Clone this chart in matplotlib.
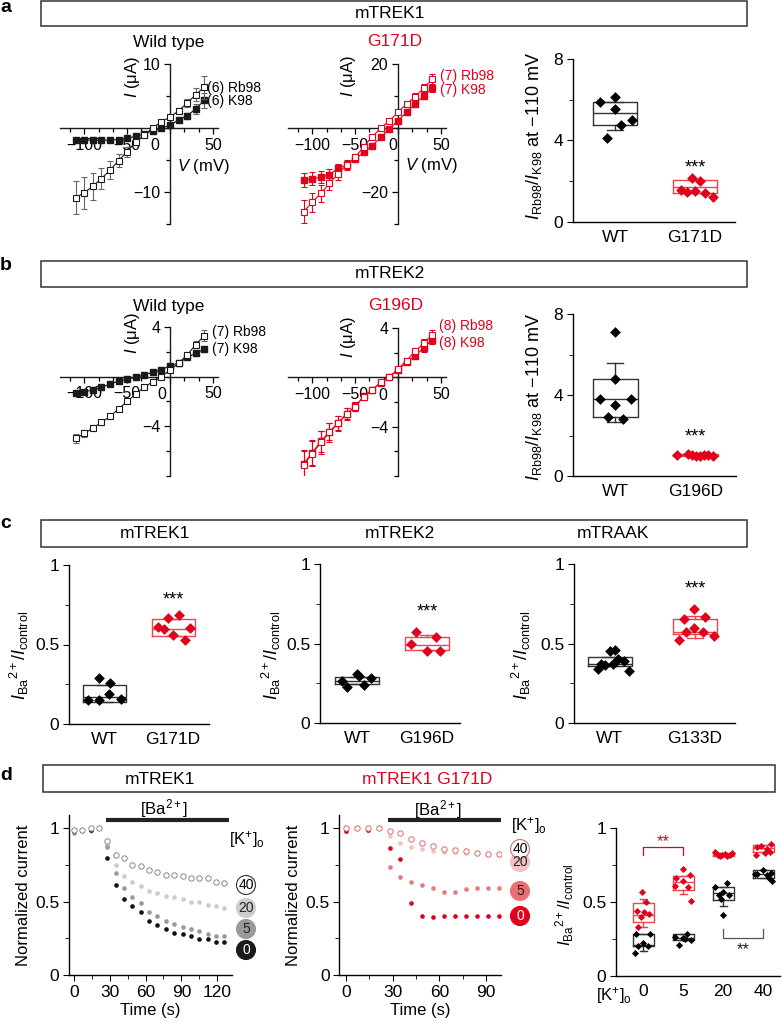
import numpy as np
import matplotlib
matplotlib.use("Agg")
import matplotlib.pyplot as plt
from matplotlib.patches import Rectangle, Circle
from matplotlib.ticker import MultipleLocator

plt.rcParams["font.family"] = ["Liberation Sans", "DejaVu Sans"]
plt.rcParams["mathtext.fontset"] = "custom"
plt.rcParams["mathtext.rm"] = "Liberation Sans"
plt.rcParams["mathtext.it"] = "Liberation Sans:italic"
plt.rcParams["mathtext.bf"] = "Liberation Sans:bold"
plt.rcParams["axes.linewidth"] = 1.0

W, H = 783, 1026
RED = "#e2001a"
RED_BOX = "#e8474f"
DARK = "#1a1a1a"

# ---------------- data ----------------
voltage_mv = [-110, -100, -90, -80, -70, -60, -50, -40, -30, -20, -10, 0, 10, 20, 30, 40]

a_wt_rb98 = [-10.9, -10.1, -9.1, -7.9, -6.6, -5.1, -3.7, -2.2, -1.1, 0.0, 1.0, 1.7, 2.7, 3.9, 5.2, 6.4]
a_wt_rb98_err = [2.6, 2.5, 2.1, 1.7, 1.4, 1.0, 0.8, 0.5, 0.3, 0.2, 0.2, 0.3, 0.4, 0.6, 1.0, 1.8]
a_wt_k98 = [-1.9, -1.9, -1.9, -1.9, -1.9, -1.8, -1.6, -1.3, -0.9, -0.4, 0.0, 0.4, 1.3, 1.9, 3.0, 4.3]
a_wt_k98_err = [0.3, 0.3, 0.3, 0.3, 0.3, 0.3, 0.3, 0.2, 0.2, 0.2, 0.2, 0.2, 0.3, 0.5, 0.8, 1.2]

a_g_rb98 = [-26.1, -23.2, -20.4, -17.3, -14.4, -11.5, -9.2, -5.8, -2.7, 0.0, 2.3, 4.9, 7.5, 9.8, 12.5, 15.2]
a_g_rb98_err = [3.5, 2.9, 2.6, 2.1, 1.8, 1.5, 1.2, 0.8, 0.6, 0.5, 0.5, 0.6, 0.8, 1.0, 1.3, 1.7]
a_g_k98 = [-16.3, -15.9, -15.4, -14.6, -12.6, -11.5, -9.7, -7.6, -5.5, -2.9, -0.3, 2.3, 4.9, 7.5, 10.1, 12.4]
a_g_k98_err = [2.2, 2.0, 1.9, 1.7, 1.5, 1.2, 1.0, 0.8, 0.6, 0.5, 0.4, 0.5, 0.6, 0.8, 1.0, 1.3]

b_wt_rb98 = [-4.97, -4.57, -4.14, -3.68, -3.2, -2.6, -2.0, -1.4, -0.85, -0.4, 0.0, 0.54, 1.08, 1.75, 2.58, 3.3]
b_wt_rb98_err = [0.35, 0.3, 0.25, 0.2, 0.2, 0.15, 0.15, 0.1, 0.1, 0.1, 0.1, 0.1, 0.15, 0.2, 0.3, 0.45]
b_wt_k98 = [-1.34, -1.21, -1.08, -0.86, -0.6, -0.35, -0.2, -0.05, 0.15, 0.35, 0.56, 0.89, 1.08, 1.56, 1.88, 2.23]
b_wt_k98_err = [0.1, 0.1, 0.1, 0.1, 0.1, 0.1, 0.1, 0.1, 0.1, 0.1, 0.1, 0.1, 0.1, 0.15, 0.2, 0.25]

b_g_rb98 = [-7.1, -6.18, -5.28, -4.47, -3.74, -2.98, -2.38, -1.57, -1.02, -0.41, 0.05, 0.68, 1.36, 2.11, 2.77, 3.45]
b_g_rb98_err = [1.15, 1.0, 0.9, 0.75, 0.6, 0.5, 0.35, 0.25, 0.2, 0.15, 0.1, 0.15, 0.2, 0.25, 0.3, 0.35]
b_g_k98 = [-7.0, -6.1, -5.2, -4.4, -3.7, -2.95, -2.35, -1.55, -1.0, -0.42, 0.03, 0.6, 1.22, 1.76, 2.39, 3.04]
b_g_k98_err = [1.1, 1.0, 0.85, 0.7, 0.6, 0.45, 0.35, 0.25, 0.2, 0.15, 0.1, 0.15, 0.2, 0.25, 0.3, 0.3]

# ratio I_Rb98/I_K98 at -110 mV
a_ratio_wt = [5.9, 6.15, 5.57, 5.03, 4.75, 4.1]
a_ratio_wt_off = [-0.19, 0.0, 0.0, 0.21, 0.08, -0.1]
a_ratio_g = [1.55, 1.45, 2.15, 2.0, 1.5, 1.42, 1.25]
a_ratio_g_off = [-0.17, -0.1, -0.04, 0.06, 0.0, 0.12, 0.22]
a_box_wt = [4.75, 5.33, 5.9, 4.5, 5.9]   # q1, median, q3, low, high
a_box_g = [1.44, 1.73, 2.06, 1.44, 2.06]

b_ratio_wt = [7.13, 4.77, 3.78, 3.78, 3.53, 2.92, 2.8]
b_ratio_wt_off = [0.0, 0.0, -0.19, 0.19, 0.0, -0.09, 0.09]
b_ratio_g = [1.02, 1.08, 0.98, 1.05, 1.0, 1.06, 0.97, 1.03]
b_ratio_g_off = [-0.23, -0.1, 0.0, 0.1, 0.22, -0.05, 0.05, 0.15]
b_box_wt = [2.92, 3.78, 4.77, 2.67, 5.6]
b_box_g = [0.98, 1.03, 1.08, 0.98, 1.08]

# I_Ba/I_control
c1_wt = [0.15, 0.148, 0.29, 0.255, 0.19, 0.158]
c1_wt_off = [-0.23, -0.08, -0.08, 0.08, 0.07, 0.24]
c1_g = [0.61, 0.60, 0.665, 0.685, 0.56, 0.53, 0.605]
c1_g_off = [-0.22, -0.13, -0.07, 0.09, 0.0, 0.17, 0.25]
c1_box_wt = [0.14, 0.17, 0.243, 0.14, 0.243]
c1_box_g = [0.553, 0.60, 0.66, 0.553, 0.66]

c2_wt = [0.265, 0.225, 0.31, 0.295, 0.24, 0.285]
c2_wt_off = [-0.22, -0.15, 0.0, 0.02, 0.1, 0.2]
c2_g = [0.50, 0.575, 0.455, 0.54, 0.455]
c2_g_off = [-0.23, -0.16, 0.0, 0.13, 0.19]
c2_box_wt = [0.243, 0.265, 0.29, 0.243, 0.29]
c2_box_g = [0.46, 0.49, 0.54, 0.46, 0.555]

c3_wt = [0.34, 0.365, 0.455, 0.46, 0.37, 0.40, 0.39, 0.325, 0.37]
c3_wt_off = [-0.16, -0.07, 0.0, 0.07, 0.04, 0.12, 0.2, 0.27, -0.12]
c3_g = [0.52, 0.655, 0.72, 0.665, 0.575, 0.595, 0.575, 0.545]
c3_g_off = [-0.23, -0.16, -0.02, 0.14, -0.12, -0.02, 0.11, 0.27]
c3_box_wt = [0.358, 0.37, 0.416, 0.358, 0.416]
c3_box_g = [0.56, 0.575, 0.655, 0.535, 0.67]

# Ba2+ block time course (normalized current)
d1_time = [0, 7, 14, 21, 28, 35, 42, 49, 56, 63, 70, 77, 84, 91, 98, 105, 112, 119, 126]
d1_k40 = [0.99, 0.99, 1.0, 1.0, 0.915, 0.82, 0.795, 0.75, 0.74, 0.715, 0.705, 0.68, 0.68, 0.675, 0.66, 0.66, 0.66, 0.635, 0.63]
d1_k20 = [0.98, 0.99, 0.98, 1.0, 0.886, 0.75, 0.675, 0.636, 0.607, 0.573, 0.561, 0.538, 0.53, 0.516, 0.5, 0.5, 0.477, 0.473, 0.455]
d1_k5 = [0.97, 0.98, 0.99, 1.0, 0.87, 0.693, 0.59, 0.534, 0.489, 0.432, 0.402, 0.37, 0.345, 0.325, 0.311, 0.3, 0.28, 0.268, 0.265]
d1_k0 = [0.98, 0.99, 0.99, 1.0, 0.80, 0.613, 0.516, 0.472, 0.427, 0.37, 0.34, 0.313, 0.284, 0.28, 0.268, 0.245, 0.245, 0.227, 0.227]

d2_time = [0, 7, 14, 21, 28, 35, 42, 49, 56, 63, 70, 77, 84, 91, 98]
d2_k40 = [1.0, 1.0, 1.0, 1.0, 0.98, 0.965, 0.925, 0.897, 0.879, 0.861, 0.852, 0.845, 0.834, 0.827, 0.823]
d2_k20 = [1.0, 1.0, 0.99, 1.0, 0.95, 0.90, 0.872, 0.855, 0.845, 0.84, 0.835, 0.83, 0.828, 0.825, 0.82]
d2_k5 = [0.98, 1.0, 0.99, 1.0, 0.735, 0.67, 0.635, 0.612, 0.592, 0.567, 0.567, 0.586, 0.59, 0.59, 0.59]
d2_k0 = [0.98, 1.0, 0.99, 1.0, 0.866, 0.79, 0.49, 0.405, 0.397, 0.40, 0.40, 0.40, 0.40, 0.40, 0.40]

k_labels = ["0", "5", "20", "40"]
d3_red = [[0.565, 0.50, 0.44, 0.43, 0.42, 0.40, 0.33],
          [0.725, 0.685, 0.66, 0.64, 0.61, 0.60, 0.51],
          [0.84, 0.82, 0.815, 0.82, 0.825, 0.81, 0.82, 0.83],
          [0.895, 0.88, 0.87, 0.86, 0.84, 0.82, 0.83]]
d3_red_off = [[-0.04, 0.08, -0.15, 0.02, 0.15, -0.05, -0.12],
              [0.0, 0.17, -0.17, 0.0, -0.2, 0.12, 0.2],
              [-0.2, -0.14, -0.08, -0.02, 0.04, 0.1, 0.16, 0.22],
              [0.2, -0.05, -0.15, 0.1, 0.18, -0.18, 0.05]]
d3_black = [[0.285, 0.285, 0.20, 0.20, 0.155, 0.22],
            [0.26, 0.21, 0.255, 0.28, 0.24, 0.25],
            [0.63, 0.60, 0.57, 0.55, 0.55, 0.52, 0.41],
            [0.72, 0.70, 0.69, 0.68, 0.69, 0.66, 0.64]]
d3_black_off = [[-0.18, 0.16, -0.13, 0.12, -0.2, 0.0],
                [-0.2, -0.1, 0.0, 0.1, 0.2, 0.05],
                [0.1, -0.2, 0.0, -0.1, 0.15, -0.05, 0.0],
                [0.0, 0.2, -0.15, 0.1, -0.2, 0.15, 0.22]]
d3_box_red = [[0.365, 0.41, 0.49, 0.33, 0.52], [0.58, 0.635, 0.675, 0.556, 0.675],
              [0.81, 0.82, 0.83, 0.81, 0.83], [0.84, 0.865, 0.89, 0.84, 0.89]]
d3_box_black = [[0.20, 0.21, 0.285, 0.17, 0.285], [0.245, 0.255, 0.28, 0.245, 0.28],
                [0.515, 0.56, 0.60, 0.47, 0.60], [0.665, 0.69, 0.72, 0.665, 0.72]]

# ---------------- helpers ----------------
fig = plt.figure(figsize=(W / 100, H / 100), dpi=100)


def add_ax(x0, x1, y0, y1):
    return fig.add_axes([x0 / W, 1 - y1 / H, (x1 - x0) / W, (y1 - y0) / H])


def ftext(x, y, s, **kw):
    kw.setdefault("ha", "center")
    kw.setdefault("va", "center")
    kw.setdefault("fontsize", 11.5)
    return fig.text(x / W, 1 - y / H, s, **kw)


def header(x0, x1, y0, y1):
    fig.add_artist(Rectangle((x0 / W, 1 - y1 / H), (x1 - x0) / W, (y1 - y0) / H,
                             transform=fig.transFigure, fill=False, lw=1.1, ec="#333333"))


def iv_plot(ax, ylim, yticks, yminor, rb, rb_err, k, k_err, color, ecolor, zero_dx):
    ax.set_xlim(-128, 56)
    ax.set_ylim(*ylim)
    for s in ("top", "right"):
        ax.spines[s].set_visible(False)
    ax.spines["left"].set_position(("data", 0))
    ax.spines["bottom"].set_position(("data", 0))
    ax.spines["left"].set_color(DARK)
    ax.spines["bottom"].set_color(DARK)
    ax.set_xticks([-100, -50, 0, 50], ["\u2212100", "\u221250", "", "50"])
    ax.xaxis.set_minor_locator(MultipleLocator(50 / 3))
    ax.set_yticks(yticks, [f"{t:g}".replace("-", "\u2212") for t in yticks])
    ax.yaxis.set_minor_locator(MultipleLocator(yminor))
    ax.tick_params(which="major", length=4, width=0.9, labelsize=11.5, pad=3)
    ax.tick_params(which="minor", length=3, width=0.9)
    ax.annotate("0", xy=(0, 0), xytext=(zero_dx, -7.5), textcoords="offset points",
                ha="center", va="top", fontsize=11.5)
    ax.errorbar(voltage_mv, k, yerr=k_err, fmt="-s", color=color, ecolor=ecolor, mfc=color,
                mec=color, ms=5, lw=0.8, elinewidth=0.8, capsize=2, capthick=0.8, zorder=3)
    ax.errorbar(voltage_mv, rb, yerr=rb_err, fmt="-s", color=color, ecolor=ecolor, mfc="white",
                mec=color, ms=5, mew=0.8, lw=0.8, elinewidth=0.8, capsize=2, capthick=0.8, zorder=4)


def box_axes(ax, xlim, ylim, yticks, ylabels, yminor, xlabels, fs=12.5):
    ax.set_xlim(*xlim)
    ax.set_ylim(*ylim)
    for s in ("top", "right"):
        ax.spines[s].set_visible(False)
    ax.set_yticks(yticks, ylabels)
    ax.yaxis.set_minor_locator(MultipleLocator(yminor))
    ax.set_xticks(range(1, len(xlabels) + 1), xlabels)
    ax.tick_params(axis="x", length=0, pad=6, labelsize=fs)
    ax.tick_params(axis="y", which="major", length=4, labelsize=fs, pad=3)
    ax.tick_params(axis="y", which="minor", length=3)


def draw_box(ax, pos, stats, width, color):
    q1, med, q3, lo, hi = stats
    props = dict(color=color, lw=1.0)
    ax.bxp([dict(q1=q1, med=med, q3=q3, whislo=lo, whishi=hi, fliers=[])],
           positions=[pos], widths=width, capwidths=width * 0.35, manage_ticks=False,
           boxprops=props, medianprops=props, whiskerprops=props, capprops=props, zorder=2)


def draw_pts(ax, pos, vals, offs, color, s=30):
    ax.scatter(np.add(pos, offs), vals, marker="D", s=s, color=color, linewidths=0, zorder=3)


def badge(x, y, s, face, edge, tcolor):
    fig.add_artist(Circle((x / 100, (H - y) / 100), 0.095, transform=fig.dpi_scale_trans,
                          fc=face, ec=edge, lw=0.8))
    ftext(x, y, s, fontsize=10, color=tcolor)


# ---------------- panel a ----------------
ftext(6, 8, "a", fontsize=14, fontweight="bold")
header(41, 747, 1, 26)
ftext(390, 14, "mTREK1", fontsize=12.5)

ax = add_ax(60.3, 218, 64, 224)
iv_plot(ax, (-15, 10), [-10, 10], 5, a_wt_rb98, a_wt_rb98_err, a_wt_k98, a_wt_k98_err,
        DARK, "#666666", -11)
ftext(169, 42, "Wild type", fontsize=12.5)
ftext(132, 77, r"$I$ (μA)", rotation=90, fontsize=12)
ftext(203, 167, r"$V$ (mV)", fontsize=12)
ftext(207, 88, "(6) Rb98", fontsize=10, ha="left")
ftext(207, 101, "(6) K98", fontsize=10, ha="left")

ax = add_ax(288.3, 446, 64, 224)
iv_plot(ax, (-30, 20), [-20, 20], 10, a_g_rb98, a_g_rb98_err, a_g_k98, a_g_k98_err,
        RED, RED, -4)
ftext(395, 42, "G171D", fontsize=12.5, color=RED)
ftext(348, 76, r"$I$ (μA)", rotation=90, fontsize=12)
ftext(431, 166, r"$V$ (mV)", fontsize=12)
ftext(440, 76, "(7) Rb98", fontsize=10, ha="left", color=RED)
ftext(440, 90, "(7) K98", fontsize=10, ha="left", color=RED)

ax = add_ax(573, 735, 59, 222)
box_axes(ax, (0.475, 2.5), (0, 8), [0, 4, 8], ["0", "4", "8"], 2, ["WT", "G171D"])
draw_box(ax, 1, a_box_wt, 0.56, "#333333")
draw_box(ax, 2, a_box_g, 0.56, RED_BOX)
draw_pts(ax, 1, a_ratio_wt, a_ratio_wt_off, "black")
draw_pts(ax, 2, a_ratio_g, a_ratio_g_off, RED)
ax.text(2, 2.65, "***", ha="center", va="center", fontsize=13)
ftext(534, 136, r"$I_{\rm Rb98}/I_{\rm K98}$ at " + "\u2212110 mV", rotation=90, fontsize=13)

# ---------------- panel b ----------------
ftext(6, 265, "b", fontsize=14, fontweight="bold")
header(41, 747, 261, 287)
ftext(390, 274, "mTREK2", fontsize=12.5)

ax = add_ax(60.3, 218, 327, 476)
iv_plot(ax, (-8, 4), [-4, 4], 2, b_wt_rb98, b_wt_rb98_err, b_wt_k98, b_wt_k98_err,
        DARK, "#666666", -6)
ftext(169, 306, "Wild type", fontsize=12.5)
ftext(132, 333, r"$I$ (μA)", rotation=90, fontsize=12)
ftext(212, 332, "(7) Rb98", fontsize=10, ha="left")
ftext(212, 349, "(7) K98", fontsize=10, ha="left")

ax = add_ax(288.3, 446, 328, 476)
iv_plot(ax, (-8, 4), [-4, 4], 2, b_g_rb98, b_g_rb98_err, b_g_k98, b_g_k98_err,
        RED, RED, -11)
ftext(396, 306, "G196D", fontsize=12.5, color=RED)
ftext(348, 337, r"$I$ (μA)", rotation=90, fontsize=12)
ftext(439, 326, "(8) Rb98", fontsize=10, ha="left", color=RED)
ftext(439, 343, "(8) K98", fontsize=10, ha="left", color=RED)

ax = add_ax(573, 736, 314, 476)
box_axes(ax, (0.475, 2.5), (0, 8), [0, 4, 8], ["0", "4", "8"], 2, ["WT", "G196D"])
draw_box(ax, 1, b_box_wt, 0.56, "#333333")
draw_box(ax, 2, b_box_g, 0.56, RED_BOX)
draw_pts(ax, 1, b_ratio_wt, b_ratio_wt_off, "black")
draw_pts(ax, 2, b_ratio_g, b_ratio_g_off, RED)
ax.text(2, 1.95, "***", ha="center", va="center", fontsize=13)
ftext(534, 397, r"$I_{\rm Rb98}/I_{\rm K98}$ at " + "\u2212110 mV", rotation=90, fontsize=13)

# ---------------- panel c ----------------
ftext(6, 524, "c", fontsize=14, fontweight="bold")
header(41, 747, 520, 547)
ftext(155, 534, "mTREK1", fontsize=12.5)
ftext(400, 534, "mTREK2", fontsize=12.5)
ftext(613, 534, "mTRAAK", fontsize=12.5)

ba_label = r"$I_{\rm Ba}{}^{2+}/I_{\rm control}$"
c_specs = [
    ((69, 209, 565, 724), (0.49, 2.52), 0.62, "G171D", c1_wt, c1_wt_off, c1_g, c1_g_off,
     c1_box_wt, c1_box_g, 0.78, 19),
    ((320, 460, 564, 723), (0.47, 2.47), 0.62, "G196D", c2_wt, c2_wt_off, c2_g, c2_g_off,
     c2_box_wt, c2_box_g, 0.70, 271),
    ((574, 735, 564, 723), (0.58, 2.47), 0.52, "G133D", c3_wt, c3_wt_off, c3_g, c3_g_off,
     c3_box_wt, c3_box_g, 0.84, 521),
]
for rect, xl, bw, mut, wt, wt_off, g, g_off, bwt, bg, star_y, ylx in c_specs:
    ax = add_ax(*rect)
    box_axes(ax, xl, (0, 1), [0, 0.5, 1], ["0", "0.5", "1"], 0.25, ["WT", mut])
    draw_box(ax, 1, bwt, bw, "#333333")
    draw_box(ax, 2, bg, bw, RED_BOX)
    draw_pts(ax, 1, wt, np.multiply(wt_off, bw / 0.62), "black")
    draw_pts(ax, 2, g, np.multiply(g_off, bw / 0.62), RED)
    ax.text(2, star_y, "***", ha="center", va="center", fontsize=13)
    ftext(ylx, 655, ba_label, rotation=90, fontsize=13)

# ---------------- panel d ----------------
ftext(6, 776, "d", fontsize=14, fontweight="bold")
header(43, 775, 765, 792)
ftext(160, 779, "mTREK1", fontsize=12.5)
ftext(427, 779, "mTREK1 G171D", fontsize=12.5, color=RED)


def time_axes(ax, xlim, xticks):
    ax.set_xlim(*xlim)
    ax.set_ylim(0, 1.09)
    for s in ("top", "right"):
        ax.spines[s].set_visible(False)
    ax.set_xticks(xticks)
    ax.xaxis.set_minor_locator(MultipleLocator(15))
    ax.set_yticks([0, 0.5, 1], ["0", "0.5", "1"])
    ax.yaxis.set_minor_locator(MultipleLocator(0.25))
    ax.tick_params(which="major", length=4, labelsize=12.5, pad=3)
    ax.tick_params(which="minor", length=3)
    ax.set_xlabel("Time (s)", fontsize=12, labelpad=2)
    ax.set_ylabel("Normalized current", fontsize=12, labelpad=3)


ax = add_ax(69, 232, 815, 975)
time_axes(ax, (-4.2, 132.5), [0, 30, 60, 90, 120])
ax.scatter(d1_time, d1_k20, s=11, color="#cccccc", linewidths=0, zorder=3)
ax.scatter(d1_time, d1_k5, s=11, color="#999999", linewidths=0, zorder=3)
ax.scatter(d1_time, d1_k0, s=11, color="#111111", linewidths=0, zorder=3)
ax.scatter(d1_time, d1_k40, s=15, facecolors="white", edgecolors="#888888", linewidths=0.7, zorder=4)
ax.plot([27, 130], [1.057, 1.057], color="#222222", lw=3, clip_on=False, solid_capstyle="butt")
ftext(164, 809, r"[Ba$^{2+}$]", fontsize=12)
ftext(247, 840, r"[K$^{+}$]$_{\rm o}$", fontsize=12)
badge(246, 885, "40", "white", "#333333", "black")
badge(246, 908, "20", "#cccccc", "#cccccc", "#222222")
badge(246, 929, "5", "#999999", "#999999", "#222222")
badge(246, 950, "0", "#1a1a1a", "#1a1a1a", "white")

ax = add_ax(339.3, 500.7, 815, 975)
time_axes(ax, (-4.3, 99.4), [0, 30, 60, 90])
ax.scatter(d2_time, d2_k20, s=11, color="#f5c2c2", linewidths=0, zorder=3)
ax.scatter(d2_time, d2_k5, s=11, color="#e97a7a", linewidths=0, zorder=3)
ax.scatter(d2_time, d2_k0, s=11, color=RED, linewidths=0, zorder=3)
ax.scatter(d2_time, d2_k40, s=15, facecolors="white", edgecolors="#e06a6a", linewidths=0.7, zorder=4)
ax.plot([26.8, 99.4], [1.057, 1.057], color="#222222", lw=3, clip_on=False, solid_capstyle="butt")
ftext(438, 810, r"[Ba$^{2+}$]", fontsize=12)
ftext(529, 825, r"[K$^{+}$]$_{\rm o}$", fontsize=12)
badge(520, 862, "20", "#f5c2c2", "#f5c2c2", "#222222")
badge(520, 849, "40", "white", "#e06a6a", "black")
badge(520, 891, "5", "#e97070", "#e97070", "#222222")
badge(520, 916, "0", RED, RED, "white")

ax = add_ax(616, 780, 828.3, 975.7)
ax.set_xlim(-0.68, 3.42)
ax.set_ylim(0, 1.0)
for s in ("top", "right"):
    ax.spines[s].set_visible(False)
ax.set_xticks(range(len(k_labels)), k_labels)
ax.set_yticks([0, 0.5, 1], ["0", "0.5", "1"])
ax.yaxis.set_minor_locator(MultipleLocator(0.25))
ax.tick_params(axis="x", length=0, pad=6, labelsize=12.5)
ax.tick_params(axis="y", which="major", length=4, labelsize=12.5, pad=3)
ax.tick_params(axis="y", which="minor", length=3)
for i in range(len(k_labels)):
    draw_box(ax, i, d3_box_red[i], 0.52, RED_BOX)
    draw_box(ax, i, d3_box_black[i], 0.52, "#333333")
    draw_pts(ax, i, d3_red[i], d3_red_off[i], RED, s=13)
    draw_pts(ax, i, d3_black[i], d3_black_off[i], "black", s=13)
ax.plot([0, 0, 1, 1], [0.82, 0.87, 0.87, 0.82], color=RED, lw=0.9)
ax.text(0.5, 0.91, "**", color=RED, ha="center", va="center", fontsize=12)
ax.plot([2, 2, 3, 3], [0.32, 0.257, 0.257, 0.32], color="#555555", lw=0.9)
ax.text(2.5, 0.175, "**", color="#222222", ha="center", va="center", fontsize=12)
ftext(565, 905, ba_label, rotation=90, fontsize=12)
ftext(614, 996, r"[K$^{+}$]$_{\rm o}$", fontsize=12)

fig.savefig("out.png", dpi=100)
